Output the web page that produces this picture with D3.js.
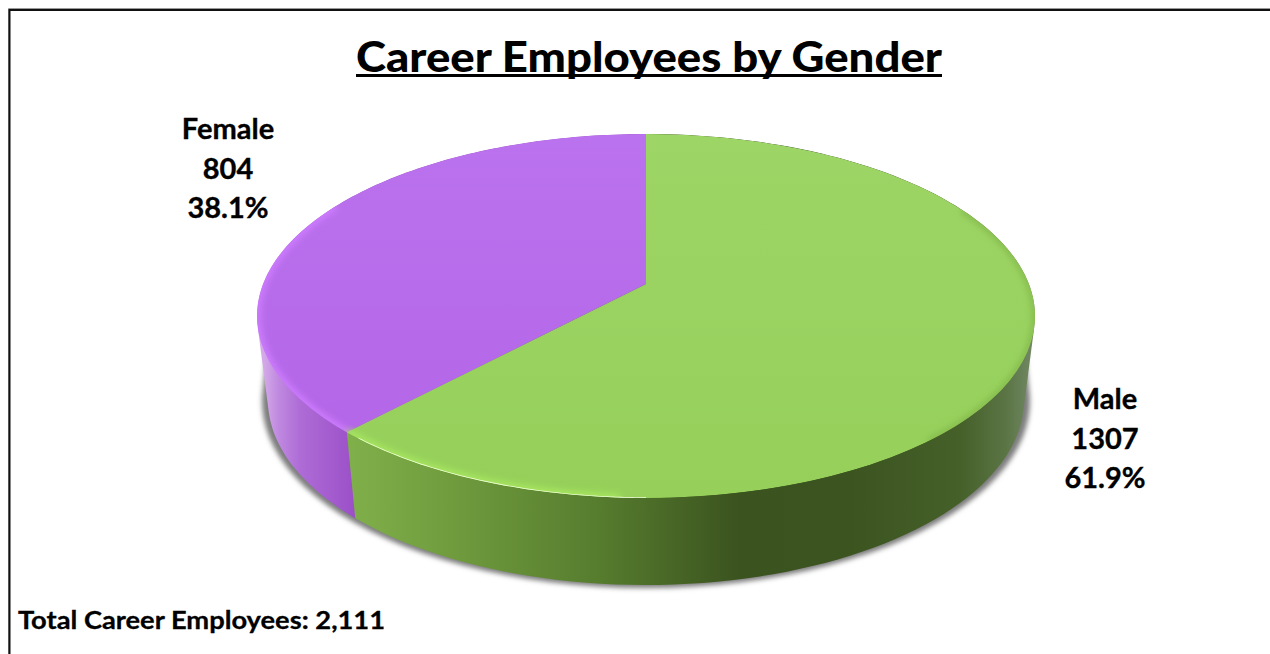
<!DOCTYPE html>
<html><head><meta charset="utf-8">
<script src="https://cdn.jsdelivr.net/npm/d3@7/dist/d3.min.js"></script>
<style>html,body{margin:0;padding:0;background:#fff;overflow:hidden}svg{display:block}</style>
</head><body><svg id="c" width="1270" height="654"></svg>
<script>
const categories = ["Male","Female"];
const values = [1307,804];
const percents = ["61.9%","38.1%"];
const titleText = "Career Employees by Gender";
const totalText = "Total Career Employees: 2,111";

const svg = d3.select("#c");
const defs = svg.append("defs");
const W=1270,H=654;
svg.append("rect").attr("width",W).attr("height",H).attr("fill","#fff");
svg.append("path").attr("d","M8.5,654V8.5H1270").attr("fill","none").attr("stroke","#999").attr("stroke-width",1);
svg.append("path").attr("d","M9.5,654V10H1270").attr("fill","none").attr("stroke","#111").attr("stroke-width",2);

const top_={cx:646,cy:316,rx:389,ry:182}, bot={cx:646,cy:400,rx:378,ry:185};
const tilt=-0.176;
function proj(e,ang){ // perspective map of a disc point on to the ellipse
  const x=Math.sin(ang),y=-Math.cos(ang);
  const d=1+tilt*y;
  return [e.cx+e.rx*x*Math.sqrt(1-tilt*tilt)/d, e.cy+e.ry*(y+tilt)/d];
}
const pie=d3.pie().sort(null).value(d=>d);
const arcs=pie(values);
function arcPts(e,a0,a1){return d3.range(0,121).map(i=>proj(e,a0+(a1-a0)*i/120));}
const line=d3.line();

function grad(id,stops,vertical){
  const g=defs.append("linearGradient").attr("id",id).attr("gradientUnits","userSpaceOnUse");
  if(vertical){g.attr("x1",0).attr("x2",0).attr("y1",134).attr("y2",498);
    stops.forEach(s=>g.append("stop").attr("offset",s[0]).attr("stop-color",s[1]));return;}
  g.attr("x1",255).attr("x2",1035).attr("y1",0).attr("y2",0);
  stops.forEach(s=>g.append("stop").attr("offset",(s[0]-255)/780).attr("stop-color",s[1]));
}
grad("gM",[[347,"#80b04a"],[450,"#709c3e"],[600,"#567c2e"],[740,"#3b531f"],[850,"#3c5520"],[960,"#46602a"],[1005,"#5a7444"],[1030,"#6f8660"]]);
grad("gF",[[264,"#d3a9e8"],[278,"#c08ae0"],[300,"#ae6cd6"],[354,"#9c50c8"]]);
grad("tM",[[0,"#9dd566"],[1,"#96d05a"]],true);
grad("tF",[[0,"#bb72ee"],[1,"#b264e6"]],true);
const f=defs.append("filter").attr("id","sh").attr("x","-10%").attr("y","-10%").attr("width","120%").attr("height","120%");
f.append("feGaussianBlur").attr("stdDeviation",2.6);
const f2=defs.append("filter").attr("id","soft").attr("x","-10%").attr("y","-10%").attr("width","120%").attr("height","120%");
f2.append("feGaussianBlur").attr("stdDeviation",3);
const fTop=defs.append("filter").attr("id","hair").attr("x","-10%").attr("y","-10%").attr("width","120%").attr("height","120%");
fTop.append("feGaussianBlur").attr("stdDeviation",0.6);

// shadow: sits only behind the lower part of the pie
const shadowEll={cx:646,cy:401,rx:384,ry:187};
const shadowTop={cx:646,cy:340,rx:378,ry:170};
const hullAll=d3.polygonHull(arcPts(shadowTop,0,2*Math.PI).concat(arcPts(shadowEll,0,2*Math.PI)));
svg.append("path").attr("d",line(hullAll)+"Z")
  .attr("fill","#7d7d7d").attr("filter","url(#sh)");

// sides: female first, male over it
const sideFill={Male:"url(#gM)",Female:"url(#gF)"};
[1,0].forEach(i=>{
  const a=arcs[i];
  const pts=arcPts(top_,a.startAngle,a.endAngle).concat(arcPts(bot,a.startAngle,a.endAngle));
  svg.append("path").attr("d",line(d3.polygonHull(pts))+"Z").attr("fill",sideFill[categories[i]]);
});

// top face
const topFill={Male:"url(#tM)",Female:"url(#tF)"};
const apexPt=[top_.cx,top_.cy+top_.ry*tilt];
defs.append("clipPath").attr("id","topClip").append("path").attr("d",line(arcPts(top_,0,2*Math.PI))+"Z");
const topG=svg.append("g").attr("clip-path","url(#topClip)");
arcs.forEach((a,i)=>{
  const d=line([apexPt].concat(arcPts(top_,a.startAngle,a.endAngle)))+"Z";
  topG.append("path").attr("d",d).attr("fill",topFill[categories[i]]);
});
// soft bevel along the rim, only where the reference shows it
const fa=arcs[1].startAngle;
topG.append("path").attr("d",line(arcPts(top_,fa,fa+Math.PI*0.42)))
  .attr("fill","none").attr("stroke","#cf7eff").attr("stroke-width",7).attr("filter","url(#soft)");
topG.append("path").attr("d",line(arcPts(top_,fa-Math.PI*0.22,fa)))
  .attr("fill","none").attr("stroke","#a8e85f").attr("stroke-width",7).attr("filter","url(#soft)");
topG.append("path").attr("d",line(arcPts(top_,Math.PI*0.35,Math.PI*0.78)))
  .attr("fill","none").attr("stroke","#84ba4c").attr("stroke-width",6).attr("filter","url(#soft)");
topG.append("path").attr("d",line(arcPts(top_,Math.PI*1.0,fa-0.04)))
  .attr("fill","none").attr("stroke","#f2ffdc").attr("stroke-width",1.6).attr("filter","url(#hair)");

// text
const bodyFont="Lato, 'Open Sans', sans-serif";
svg.append("text").attr("x",649).attr("y",71.5).attr("text-anchor","middle")
  .attr("font-family",bodyFont).attr("font-weight",900).attr("font-size",42).attr("fill","#000")
  .attr("textLength",586).attr("lengthAdjust","spacingAndGlyphs").text(titleText);
svg.append("rect").attr("x",356).attr("y",74).attr("width",586).attr("height",3).attr("fill","#000");

const labelPos={Male:[1105,409],Female:[228,139]};
categories.forEach((c,i)=>{
  const g=svg.append("text").attr("text-anchor","middle").attr("font-family",bodyFont)
    .attr("font-weight",700).attr("font-size",29).attr("fill","#000")
    .attr("stroke","#000").attr("stroke-width",0.35);
  [c,String(values[i]),percents[i]].forEach((t,j)=>{
    g.append("tspan").attr("x",labelPos[c][0]).attr("y",labelPos[c][1]+j*39.5).text(t);
  });
});
svg.append("text").attr("x",18).attr("y",629).attr("font-family",bodyFont).attr("font-weight",700)
  .attr("font-size",24.5).attr("fill","#000").attr("stroke","#000").attr("stroke-width",0.3)
  .attr("textLength",367).attr("lengthAdjust","spacingAndGlyphs").text(totalText);
</script></body></html>
